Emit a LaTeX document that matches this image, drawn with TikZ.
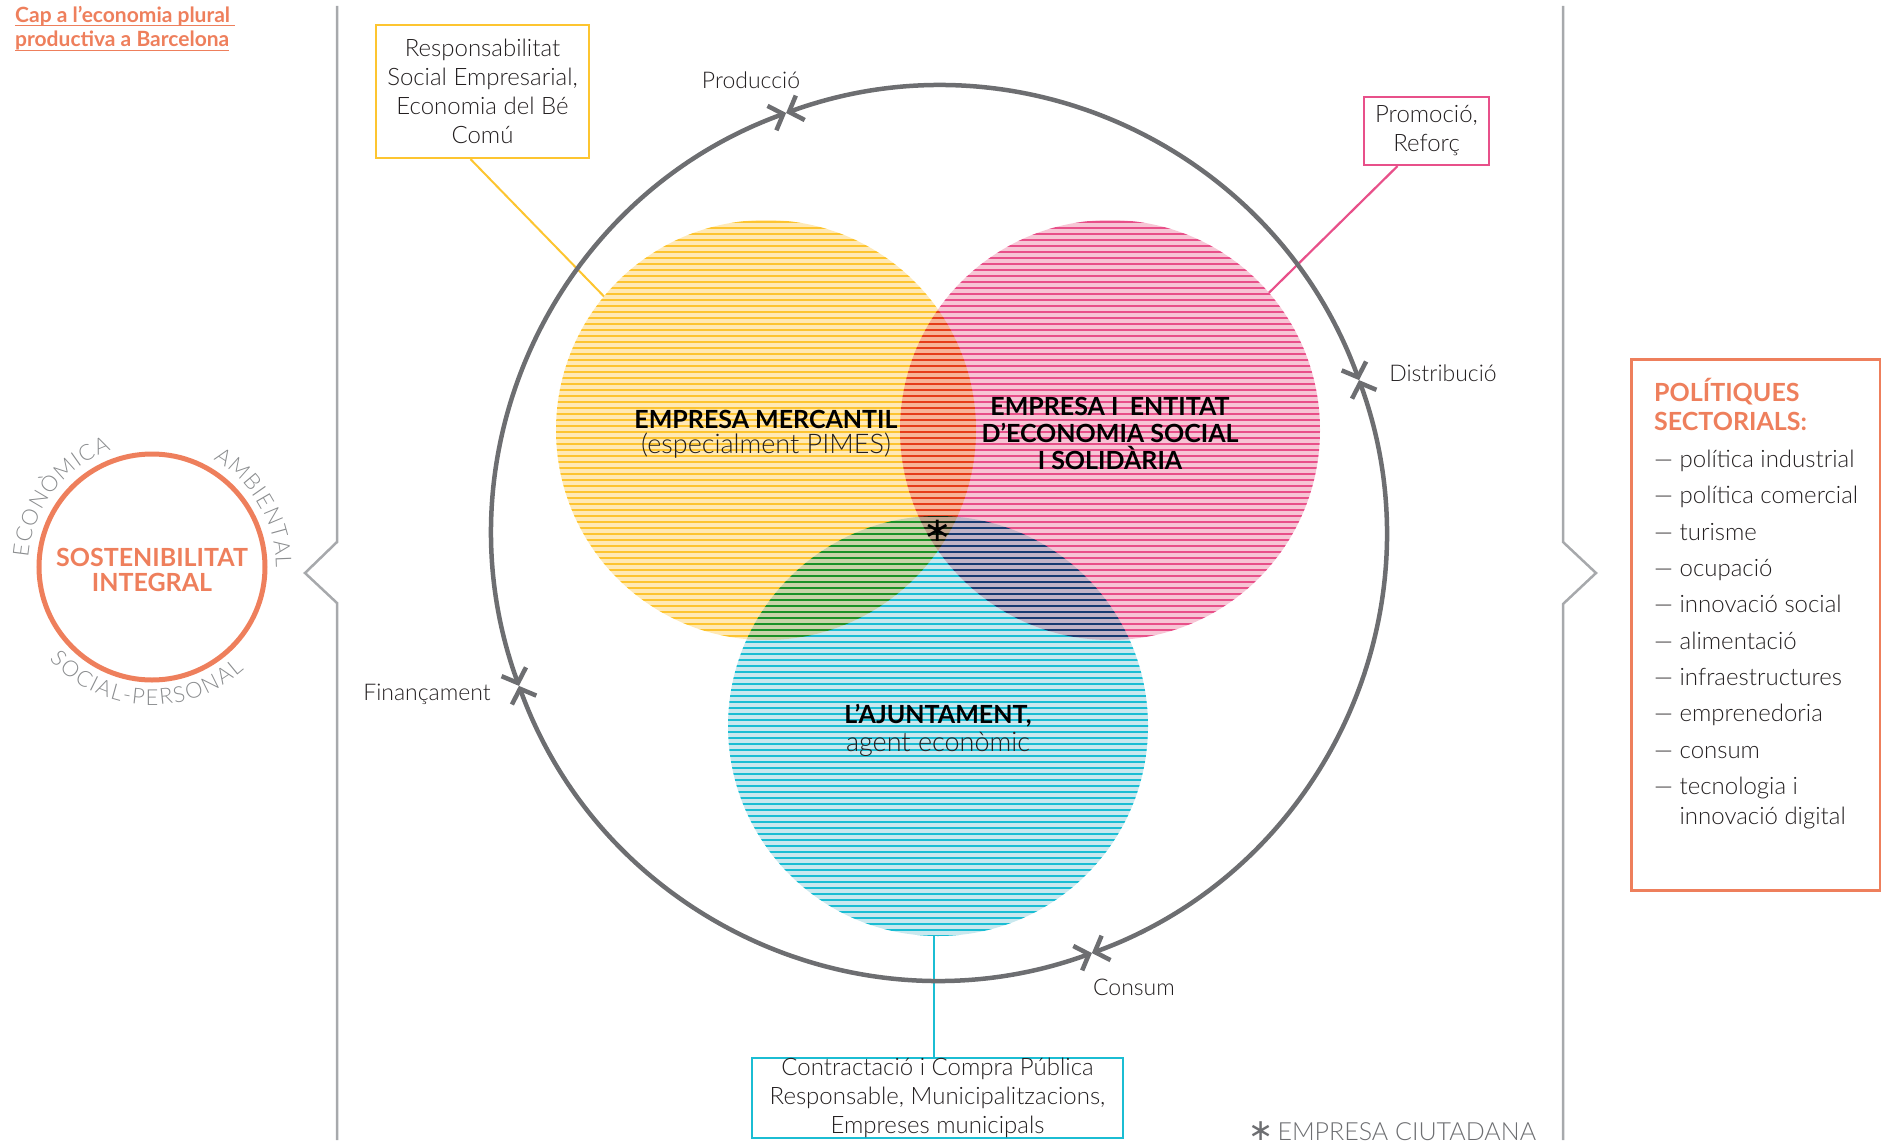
\documentclass[tikz,border=0pt]{standalone}
\usepackage{fontspec}
\setmainfont{Lato}[UprightFont=* Light,BoldFont=* Bold]
\newfontfamily\symfont{DejaVu Sans}
\usetikzlibrary{arrows.meta,calc}
\definecolor{ring}{HTML}{6D6E71}
\definecolor{sepc}{HTML}{A7A9AC}
\definecolor{orng}{HTML}{EE7F5C}
\definecolor{txt}{HTML}{231F20}
\definecolor{lblc}{HTML}{8A8C8E}
\definecolor{ylw}{HTML}{FDC530}
\definecolor{pnk}{HTML}{E8508A}
\definecolor{cyn}{HTML}{1BBDD3}
\definecolor{ybg}{HTML}{FFE9B5}
\definecolor{ystr}{HTML}{FDD744}
\definecolor{pbg}{HTML}{F7C5D5}
\definecolor{pstr}{HTML}{F068A5}
\definecolor{cbg}{HTML}{C9E8EE}
\definecolor{cstr}{HTML}{22D0E3}
\newcommand\arcfont{\fontsize{22}{22}\selectfont}
\newlength\arcW
\newcommand\measureletter[1]{\setbox0=\hbox{\pgfinterruptpicture\arcfont #1\endpgfinterruptpicture}}
% #1 centre, #2 baseline radius, #3 centre angle, #4 1=clockwise (top) / -1=counterclockwise (bottom), #5 tracking, #6 letters
\newcommand\arcword[6]{%
  \global\arcW=0pt
  \foreach \c in {#6}{\measureletter{\c}\global\advance\arcW by \wd0\global\advance\arcW by #5pt}%
  \global\advance\arcW by -#5pt
  \pgfmathsetmacro\arcspan{\arcW/#2*180/pi}%
  \gdef\arcacc{0}%
  \foreach \c in {#6}{%
    \measureletter{\c}%
    \pgfmathsetmacro\ang{#3+(#4)*(\arcspan/2-(\arcacc+\the\wd0/2)/#2*180/pi)}%
    \pgfmathsetmacro\rot{\ang-(#4)*90}%
    \node[arcletter, rotate=\rot] at ($(#1)+(\ang:#2)$) {\c};
    \measureletter{\c}%
    \pgfmathsetmacro\tmp{\arcacc+\the\wd0+#5}%
    \xdef\arcacc{\tmp}%
  }%
}
\tikzset{
  lt/.style={font=\fontsize{24}{29}\selectfont, text=txt, inner sep=0pt},
  callout/.style={lt, draw, line width=2.2pt, align=center},
  lbl/.style={font=\fontsize{23}{27}\selectfont, text=txt, inner sep=0pt},
  vbold/.style={font=\bfseries\fontsize{25}{27}\selectfont, text=black, inner sep=0pt, align=center},
  vlight/.style={font=\fontsize{27}{27}\selectfont, text=txt, inner sep=0pt, align=center},
  titlefont/.style={font=\bfseries\fontsize{21}{23}\selectfont, text=orng, inner sep=0pt},
  sepline/.style={draw=sepc, line width=2.5pt},
  ringarc/.style={draw=ring, line width=4.5pt, arrows={Straight Barb[length=12pt,width=26pt]-Straight Barb[length=12pt,width=26pt]}},
  item/.style={font=\fontsize{24}{29}\selectfont, text=txt, inner sep=0pt, anchor=base west},
  stripe/.style={line width=2.4pt},
  arcletter/.style={font=\arcfont, text=lblc, inner sep=0pt, anchor=base},
}
\begin{document}
\begin{tikzpicture}[x=1pt,y=1pt]
\path[use as bounding box] (0,0) rectangle (1881,-1145);

% separators
\draw[sepline] (337,-6) -- (337,-542) -- (305,-573) -- (337,-603) -- (337,-1140);
\draw[sepline] (1563,-6) -- (1563,-542) -- (1596,-573) -- (1563,-604) -- (1563,-1140);

% title
\node[titlefont, anchor=base west] (t1) at (15,-23) {Cap a l’economia plural};
\node[titlefont, anchor=base west] (t2) at (15,-47) {productiva a Barcelona};
\draw[orng, line width=1.8pt] ($(t1.base west)+(0,-2.5)$) -- ($(t1.base east)+(5,-2.5)$);
\draw[orng, line width=1.8pt] ($(t2.base west)+(0,-3.5)$) -- ($(t2.base east)+(0,-3.5)$);

% sostenibilitat integral
\coordinate (S) at (152,-567);
\draw[orng, line width=5pt] (S) circle[radius=113];
\node[font=\bfseries\fontsize{25}{25}\selectfont, text=orng, inner sep=0pt, align=center] (sost) at (152,-570) {SOSTENIBILITAT\\INTEGRAL};
\arcword{S}{124}{142.5}{1}{1.2}{E,C,O,N,Ò,M,I,C,A}
\arcword{S}{124}{30}{1}{1.2}{A,M,B,I,E,N,T,A,L}
\arcword{S}{138}{267}{-1}{1.6}{S,O,C,I,A,L,-,P,E,R,S,O,N,A,L}

% Venn circles
\coordinate (Y) at (766,-430);
\coordinate (P) at (1110,-430);
\coordinate (C) at (938,-726);
\begin{scope}[blend mode=multiply]
  \fill[ybg] (Y) circle[radius=210];
  \begin{scope}
    \clip (Y) circle[radius=210];
    \foreach \k in {36,...,108} \draw[stripe, ystr] (550,{-6*\k}) -- (990,{-6*\k});
  \end{scope}
  \fill[pbg] (P) circle[radius=210];
  \begin{scope}
    \clip (P) circle[radius=210];
    \foreach \k in {36,...,108} \draw[stripe, pstr] (890,{-6*\k}) -- (1330,{-6*\k});
  \end{scope}
  \fill[cbg] (C) circle[radius=210];
  \begin{scope}
    \clip (C) circle[radius=210];
    \foreach \k in {85,...,157} \draw[stripe, cstr] (720,{-6*\k}) -- (1160,{-6*\k});
  \end{scope}
\end{scope}

\node[vbold] (ym) at (766,-419) {EMPRESA MERCANTIL};
\node[vlight] (ys) at (766,-446) {(especialment PIMES)};
\node[vbold] (pm) at (1110,-433) {EMPRESA I\hspace{.45em}ENTITAT\\D’ECONOMIA SOCIAL\\I SOLIDÀRIA};
\node[vbold] (cm) at (938,-716) {L’AJUNTAMENT,};
\node[vlight] (cs) at (938,-744) {agent econòmic};
\node[inner sep=0pt, text=black] (star) at (938,-531) {\symfont\fontsize{34}{34}\selectfont ∗};

% callouts
\node[callout, draw=ylw, minimum width=213, minimum height=133] (cy) at (482.5,-91.5)
  {Responsabilitat\\Social Empresarial,\\Economia del Bé\\Comú};
\node[callout, draw=pnk, minimum width=125, minimum height=68] (cp) at (1426.5,-131)
  {Promoció,\\Reforç};
\node[callout, draw=cyn, minimum width=371, minimum height=80] (cc) at (937.5,-1098)
  {Contractació i Compra Pública\\Responsable, Municipalitzacions,\\Empreses municipals};
\path (Y) ++(140.5:210) coordinate (ya);
\path (P) ++(40.8:210) coordinate (pa);
\coordinate (ca) at (934,-936);
\draw[ylw, line width=2pt] ($(cy.south)+(-12,0)$) -- (ya);
\draw[pnk, line width=2.2pt] ($(cp.south)+(-29,0)$) -- (pa);
\draw[cyn, line width=2.2pt] (cc.north -| ca) -- (ca);

% ring with flows
\coordinate (O) at (939,-533);
\path (O) ++(110:447) coordinate (pProd);
\path (O) ++(20:447) coordinate (pDist);
\path (O) ++(-70:447) coordinate (pCons);
\path (O) ++(200:447) coordinate (pFin);
\draw[ringarc] (pProd) arc[start angle=110, end angle=20, radius=447];
\draw[ringarc] (pDist) arc[start angle=20, end angle=-70, radius=447];
\draw[ringarc] (pCons) arc[start angle=-70, end angle=-160, radius=447];
\draw[ringarc] (pFin) arc[start angle=200, end angle=110, radius=447];
\node[lbl] (lProd) at (751,-80) {Producció};
\node[lbl] (lDist) at (1443,-373) {Distribució};
\node[lbl] (lCons) at (1134,-987) {Consum};
\node[lbl] (lFin) at (427,-694) {Finançament};

% policies
\node[draw=orng, line width=2.5pt, minimum width=249, minimum height=531, anchor=north west, inner sep=0pt] (pol) at (1630,-358) {};
\node[font=\bfseries\fontsize{25}{29}\selectfont, text=orng, inner sep=0pt, anchor=base west] (ph1) at (1654,-401) {POLÍTIQUES};
\node[font=\bfseries\fontsize{25}{29}\selectfont, text=orng, inner sep=0pt, anchor=base west] (ph2) at (1654,-430) {SECTORIALS:};
\node[item] (i1) at (1654,-467) {— política industrial};
\node[item] (i2) at (1654,-503) {— política comercial};
\node[item] (i3) at (1654,-540) {— turisme};
\node[item] (i4) at (1654,-576) {— ocupació};
\node[item] (i5) at (1654,-612) {— innovació social};
\node[item] (i6) at (1654,-649) {— alimentació};
\node[item] (i7) at (1654,-685) {— infraestructures};
\node[item] (i8) at (1654,-721) {— emprenedoria};
\node[item] (i9) at (1654,-758) {— consum};
\node[item] (i10) at (1654,-794) {— tecnologia i};
\node[item] (i11) at (1654,-824) {\phantom{— }innovació digital};

% footnote
\node[font=\fontsize{25}{29}\selectfont, text=ring, inner sep=0pt, anchor=base west] (foot) at (1248,-1140)
  {{\symfont\fontsize{30}{30}\selectfont ∗}\,EMPRESA CIUTADANA};
\end{tikzpicture}
\end{document}
